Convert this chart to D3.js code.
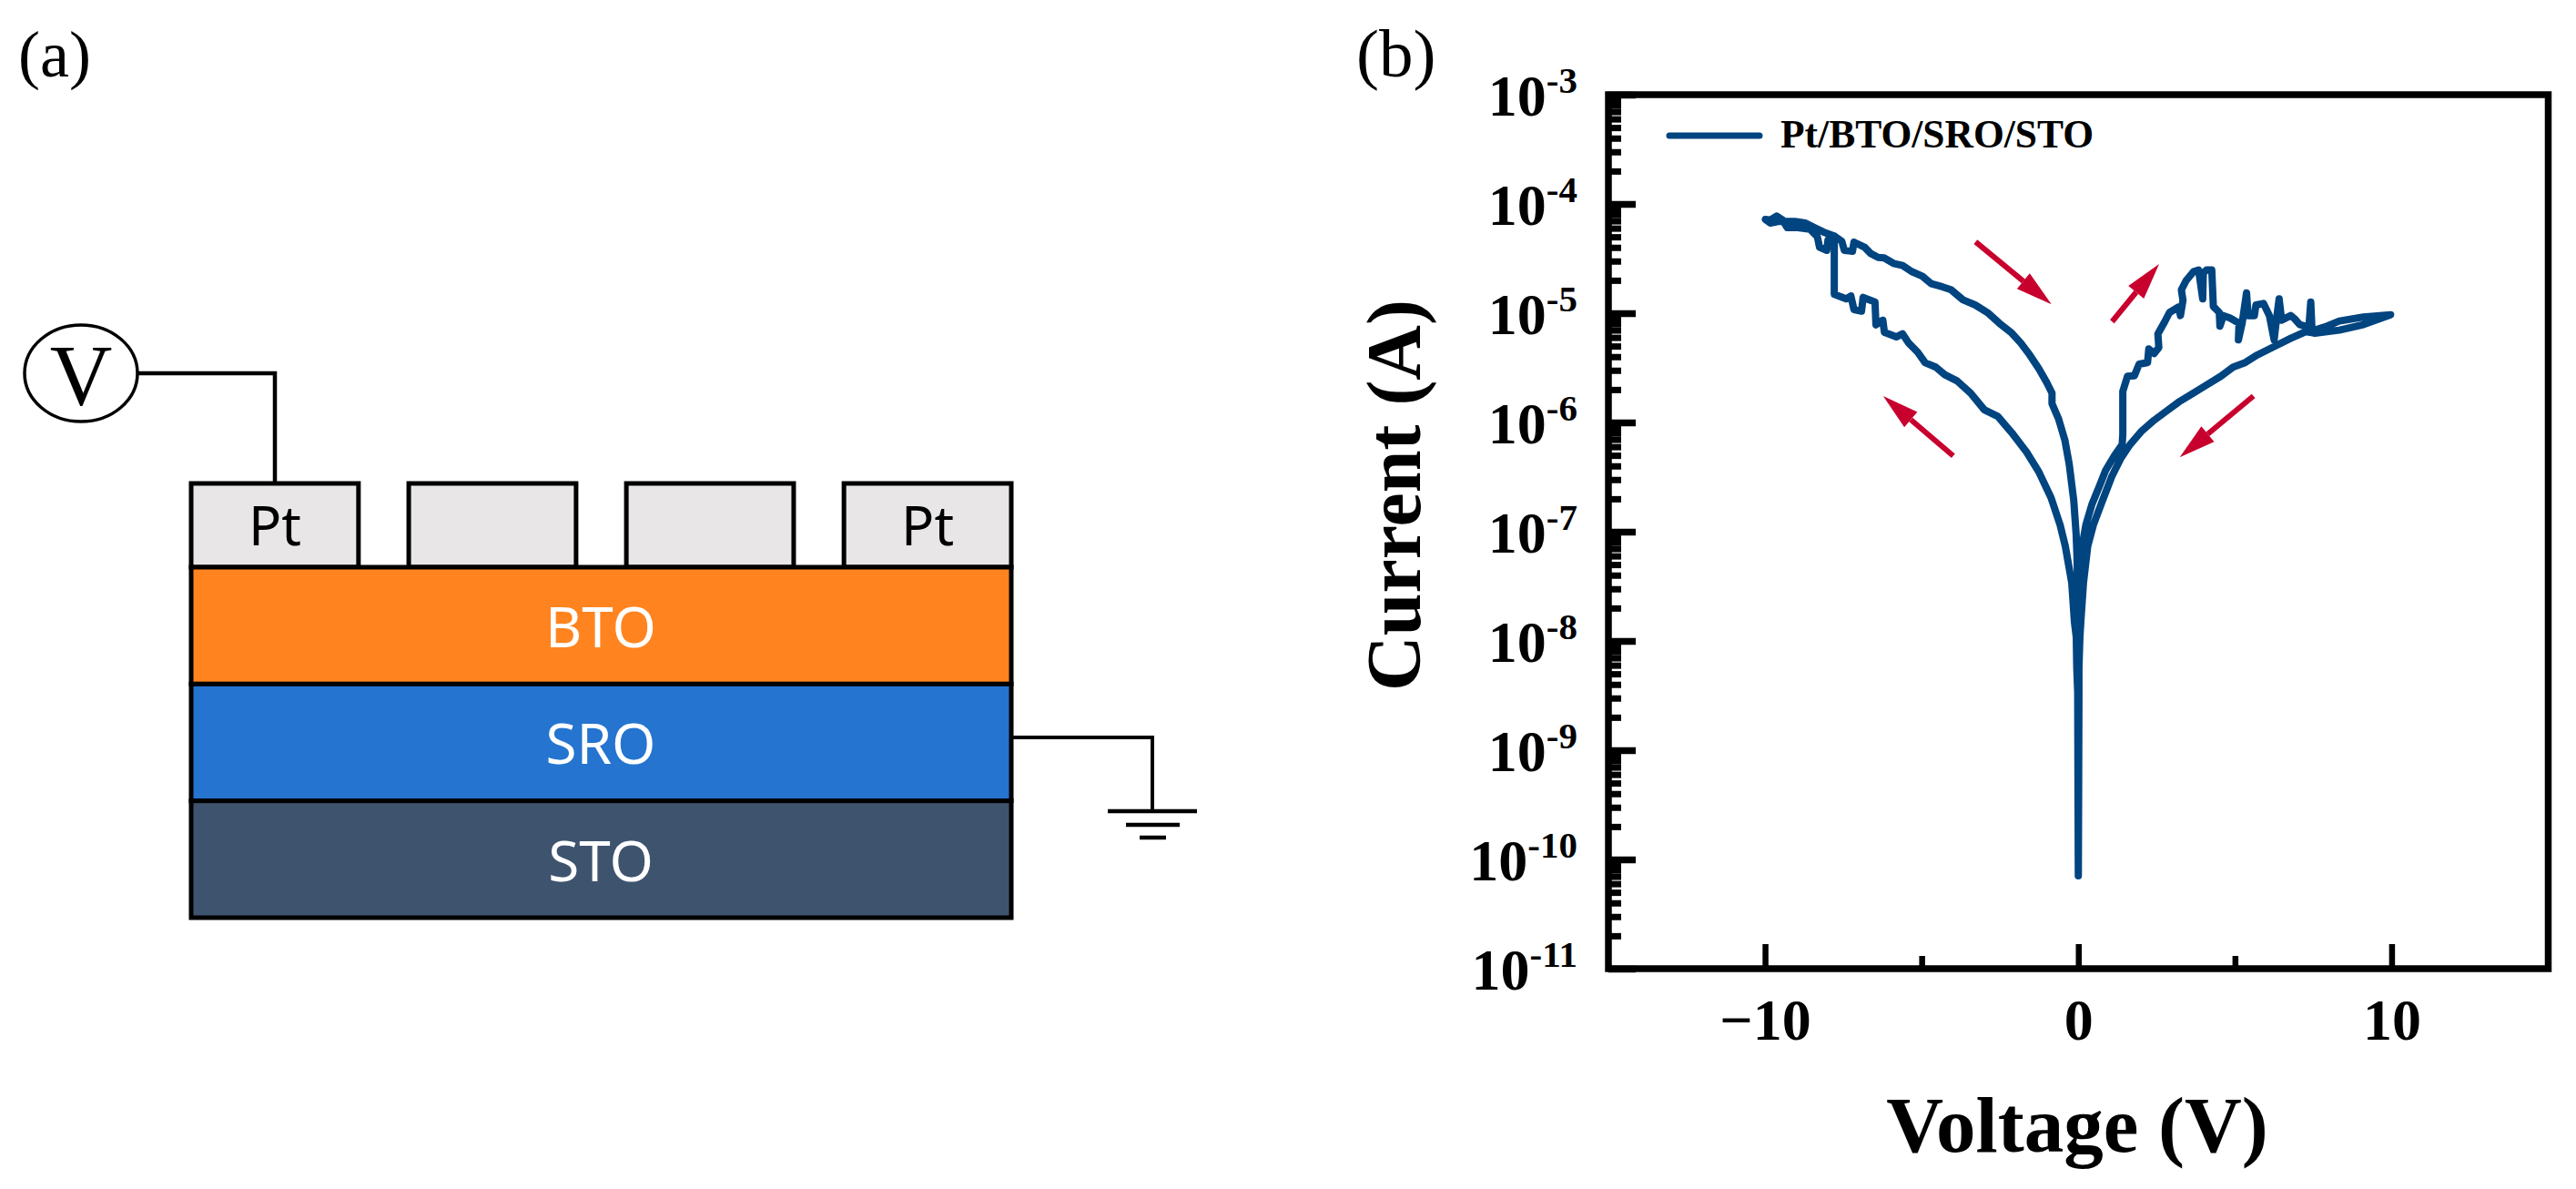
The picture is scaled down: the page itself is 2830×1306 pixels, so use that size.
<!DOCTYPE html>
<html>
<head>
<meta charset="utf-8">
<script src="https://cdn.jsdelivr.net/npm/d3@7"></script>
<style>
  html, body { margin: 0; padding: 0; background: #fff; }
  svg { display: block; }
  text { font-family: "Liberation Serif", serif; }
  .sans { font-family: "Noto Sans", sans-serif; }
</style>
</head>
<body>
<svg id="figure" width="2830" height="1306"></svg>
<script>
// (a) device stack
const layerNames = ['BTO', 'SRO', 'STO'];
const layerColors = ['#ff8420', '#2474d0', '#3e536e'];
const padLabels = ['Pt', '', '', 'Pt'];

// (b) I-V sweep, pairs of [voltage in V, log10 of current in A]
const sweepPositiveUp = [
  [0, -10.15], [0.01, -9.358], [0.015, -8.467], [0.02, -8.242], [0.04, -7.967], [0.07, -7.825], [0.11, -7.467],
  [0.12, -7.134], [0.24, -6.939], [0.44, -6.745], [0.68, -6.578], [0.87, -6.439], [1.16, -6.3], [1.4, -6.203],
  [1.42, -6.106], [1.42, -5.716], [1.57, -5.577], [1.79, -5.572], [1.94, -5.467], [2.21, -5.452], [2.25, -5.327],
  [2.42, -5.369], [2.57, -5.314], [2.54, -5.189], [2.76, -5.077], [2.91, -4.994], [3.2, -4.944], [3.26, -5.022],
  [3.34, -4.883], [3.29, -4.786], [3.44, -4.702], [3.68, -4.619], [3.84, -4.605], [3.97, -4.869], [3.99, -4.633],
  [4.09, -4.605], [4.26, -4.605], [4.31, -4.939], [4.5, -4.994], [4.52, -5.119], [4.63, -5.022], [4.84, -5.044],
  [5.13, -5.091], [5.11, -5.244], [5.23, -5.091], [5.37, -4.814], [5.42, -5.022], [5.62, -5.022], [5.67, -4.925],
  [5.91, -4.911], [6.1, -5.022], [6.25, -5.244], [6.34, -5.022], [6.41, -4.869], [6.49, -5.064], [6.78, -5.022],
  [6.9, -5.05], [7.07, -5.105], [7.36, -5.127], [7.42, -4.897], [7.46, -5.161], [7.94, -5.119], [8.33, -5.072],
  [9.1, -5.036], [9.97, -5.014]
];
const sweepPositiveDown = [
  [9.1, -5.105], [8.33, -5.155], [7.55, -5.183], [7.26, -5.169], [6.78, -5.23], [6.29, -5.3], [5.71, -5.383],
  [5.33, -5.452], [4.94, -5.494], [4.55, -5.577], [4.07, -5.661], [3.68, -5.73], [3.2, -5.814], [2.81, -5.897],
  [2.42, -5.98], [2.03, -6.077], [1.65, -6.203], [1.36, -6.327], [1.07, -6.494], [0.77, -6.717], [0.48, -6.939],
  [0.3, -7.134], [0.165, -7.467], [0.08, -7.825], [0.05, -7.967], [0.02, -8.242], [0.02, -8.467], [0.01, -9.358],
  [0, -10.15]
];
const sweepNegativeOut = [
  [-0.01, -9.358], [-0.02, -8.467], [-0.05, -8.242], [-0.065, -7.967], [-0.125, -7.825], [-0.21, -7.467],
  [-0.415, -7.133], [-0.58, -6.939], [-0.87, -6.689], [-1.26, -6.453], [-1.65, -6.272], [-2.13, -6.092],
  [-2.57, -5.945], [-3, -5.884], [-3.44, -5.731], [-3.87, -5.62], [-4.26, -5.564], [-4.55, -5.494], [-4.89, -5.453],
  [-5.13, -5.356], [-5.42, -5.272], [-5.61, -5.189], [-5.81, -5.217], [-6.19, -5.175], [-6.24, -5.064],
  [-6.46, -5.106], [-6.49, -4.897], [-6.87, -4.856], [-6.92, -4.981], [-7.16, -4.967], [-7.26, -4.842],
  [-7.41, -4.869], [-7.79, -4.828], [-7.79, -4.294], [-7.99, -4.328], [-8.03, -4.425], [-8.26, -4.397],
  [-8.33, -4.3], [-8.57, -4.231], [-8.95, -4.217], [-9.29, -4.217], [-9.44, -4.147], [-9.63, -4.111],
  [-9.83, -4.147], [-9.99, -4.142]
];
const sweepNegativeBack = [
  [-9.83, -4.175], [-9.59, -4.161], [-9.05, -4.161], [-8.71, -4.175], [-8.42, -4.217], [-8.13, -4.258],
  [-7.79, -4.294], [-7.55, -4.342], [-7.47, -4.425], [-7.21, -4.433], [-7.16, -4.35], [-6.82, -4.397],
  [-6.63, -4.453], [-6.39, -4.489], [-6.2, -4.494], [-5.9, -4.544], [-5.61, -4.564], [-5.32, -4.619],
  [-4.98, -4.661], [-4.69, -4.731], [-4.35, -4.758], [-4.06, -4.786], [-3.68, -4.878], [-3.29, -4.925],
  [-2.9, -4.994], [-2.52, -5.092], [-2.13, -5.181], [-1.84, -5.272], [-1.55, -5.383], [-1.26, -5.508],
  [-1.01, -5.633], [-0.84, -5.731], [-0.84, -5.828], [-0.63, -5.967], [-0.43, -6.161], [-0.29, -6.383],
  [-0.145, -6.717], [-0.07, -7.022], [-0.04, -7.245], [-0.02, -7.6], [0, -8]
];

// sweep direction arrows: tail and tip as [voltage, log10 current]
const sweepArrows = [
  { tail: [-3.28, -4.347], tip: [-0.857, -4.919] },
  { tail: [1.079, -5.077], tip: [2.58, -4.55] },
  { tail: [5.59, -5.758], tip: [3.238, -6.319] },
  { tail: [-3.993, -6.306], tip: [-6.23, -5.758] }
];

const voltageMajor = [-10, 0, 10];
const voltageMinor = [-5, 5];
const decades = d3.range(-11, -2);
const legendLabel = 'Pt/BTO/SRO/STO';

const svg = d3.select('#figure');

// ---------- panel (a) ----------
const a = svg.append('g');

a.append('text').attr('x', 20).attr('y', 84).attr('font-size', 72).text('(a)');

const layerY = d3.scaleBand().domain(layerNames).range([623, 1008]);
const padX = d3.scaleBand().domain(d3.range(padLabels.length)).range([210, 1111]).paddingInner(0.231);

a.selectAll('rect.pad')
  .data(padLabels)
  .join('rect')
  .attr('class', 'pad')
  .attr('x', (d, i) => padX(i))
  .attr('y', 531)
  .attr('width', padX.bandwidth())
  .attr('height', 92)
  .attr('fill', '#e8e6e6')
  .attr('stroke', '#000')
  .attr('stroke-width', 5);

a.selectAll('text.pad')
  .data(padLabels)
  .join('text')
  .attr('class', 'pad sans')
  .attr('x', (d, i) => padX(i) + padX.bandwidth() / 2)
  .attr('y', 599)
  .attr('text-anchor', 'middle')
  .attr('font-size', 60)
  .text(d => d);

a.selectAll('rect.layer')
  .data(layerNames)
  .join('rect')
  .attr('class', 'layer')
  .attr('x', 210)
  .attr('y', d => layerY(d))
  .attr('width', 901)
  .attr('height', layerY.bandwidth())
  .attr('fill', (d, i) => layerColors[i])
  .attr('stroke', '#000')
  .attr('stroke-width', 5);

a.selectAll('text.layer')
  .data(layerNames)
  .join('text')
  .attr('class', 'layer sans')
  .attr('x', 660)
  .attr('y', d => layerY(d) + 88)
  .attr('text-anchor', 'middle')
  .attr('fill', '#fff')
  .attr('font-size', 62)
  .text(d => d);

// voltmeter and ground wiring
const wire = d3.line();
a.append('path').attr('d', wire([[152, 410], [302, 410], [302, 530]]))
  .attr('fill', 'none').attr('stroke', '#000').attr('stroke-width', 4.5);
a.append('ellipse').attr('cx', 89).attr('cy', 410).attr('rx', 62).attr('ry', 53)
  .attr('fill', '#fff').attr('stroke', '#000').attr('stroke-width', 3.5);
a.append('text').attr('x', 89).attr('y', 445).attr('text-anchor', 'middle').attr('font-size', 95).text('V');

a.append('path').attr('d', wire([[1112, 810], [1266, 810], [1266, 891]]))
  .attr('fill', 'none').attr('stroke', '#000').attr('stroke-width', 4);
[[1217, 1315, 891], [1237, 1296, 906], [1252, 1281, 920]].forEach(([x1, x2, y]) => {
  a.append('line').attr('x1', x1).attr('x2', x2).attr('y1', y).attr('y2', y)
    .attr('stroke', '#000').attr('stroke-width', 4.5);
});

// ---------- panel (b) ----------
const plot = { left: 1767, right: 2799.5, top: 104, bottom: 1064 };
const x = d3.scaleLinear().domain([-15, 15]).range([plot.left, plot.right]);
const y = d3.scaleLog().domain([1e-11, 1e-3]).range([plot.bottom, plot.top]);

svg.append('text').attr('x', 1490).attr('y', 84).attr('font-size', 75).text('(b)');

// minor log ticks sit between the decades
const minorCurrents = [];
decades.slice(0, -1).forEach(e => {
  d3.range(2, 10).forEach(m => minorCurrents.push(m * Math.pow(10, e)));
});

function styleAxis(g, width) {
  g.select('.domain').remove();
  g.selectAll('.tick line').attr('stroke', '#000').attr('stroke-width', width);
}

svg.append('g')
  .attr('transform', `translate(${plot.left},0)`)
  .call(d3.axisLeft(y).tickValues(minorCurrents).tickSize(-14).tickFormat(''))
  .call(styleAxis, 7);

svg.append('g')
  .attr('class', 'y-major')
  .attr('transform', `translate(${plot.left},0)`)
  .call(d3.axisLeft(y).tickValues(decades.map(e => Math.pow(10, e))).tickSize(-30).tickFormat(''))
  .call(styleAxis, 7.5)
  .selectAll('.tick')
  .filter((d, i) => i < decades.length - 1)
  .each(function () { });

svg.select('.y-major').selectAll('.tick text').remove();
svg.select('.y-major').selectAll('.tick').each(function (d, i) {
  const label = d3.select(this).append('text')
    .attr('x', -34)
    .attr('y', 22)
    .attr('text-anchor', 'end')
    .attr('font-weight', 'bold')
    .attr('fill', '#000');
  label.append('tspan').attr('font-size', 64).text('10');
  label.append('tspan').attr('font-size', 41).attr('dy', -25).text(decades[i]);
});

svg.append('g')
  .attr('transform', `translate(0,${plot.bottom})`)
  .call(d3.axisBottom(x).tickValues(voltageMinor).tickSize(-14).tickFormat(''))
  .call(styleAxis, 6.5);

const xMajor = svg.append('g')
  .attr('transform', `translate(0,${plot.bottom})`)
  .call(d3.axisBottom(x).tickValues(voltageMajor).tickSize(-27).tickFormat(d3.format('d')))
  .call(styleAxis, 6.5);
xMajor.selectAll('.tick text')
  .attr('y', 78)
  .attr('dy', 0)
  .attr('font-family', '"Liberation Serif", serif')
  .attr('font-weight', 'bold')
  .attr('font-size', 64)
  .attr('fill', '#000');

// frame: the axes only draw ticks
svg.append('path')
  .attr('d', wire([[plot.left, plot.top], [plot.right, plot.top], [plot.right, plot.bottom], [plot.left, plot.bottom]]) + 'Z')
  .attr('fill', 'none')
  .attr('stroke', '#000')
  .attr('stroke-width', 7.5)
  .attr('stroke-linejoin', 'miter');

// measured curve
const sweep = sweepPositiveUp.concat(sweepPositiveDown, sweepNegativeOut, sweepNegativeBack);
const curve = d3.line()
  .x(d => x(d[0]))
  .y(d => y(Math.pow(10, d[1])));

svg.append('path')
  .datum(sweep)
  .attr('d', curve)
  .attr('fill', 'none')
  .attr('stroke', '#004480')
  .attr('stroke-width', 8)
  .attr('stroke-linejoin', 'round')
  .attr('stroke-linecap', 'round');

// red arrows
const arrowColor = '#c8002d';
sweepArrows.forEach(arrow => {
  const [tx, ty] = [x(arrow.tail[0]), y(Math.pow(10, arrow.tail[1]))];
  const [px, py] = [x(arrow.tip[0]), y(Math.pow(10, arrow.tip[1]))];
  const len = Math.hypot(px - tx, py - ty);
  const ux = (px - tx) / len;
  const uy = (py - ty) / len;
  const headLength = 40;
  const headHalf = 11;
  const bx = px - ux * headLength;
  const by = py - uy * headLength;

  svg.append('line')
    .attr('x1', tx).attr('y1', ty).attr('x2', bx).attr('y2', by)
    .attr('stroke', arrowColor).attr('stroke-width', 6);
  svg.append('polygon')
    .attr('points', [[px, py], [bx - uy * headHalf, by + ux * headHalf], [bx + uy * headHalf, by - ux * headHalf]].join(' '))
    .attr('fill', arrowColor);
});

// legend
svg.append('line')
  .attr('x1', 1834).attr('x2', 1933).attr('y1', 149).attr('y2', 149)
  .attr('stroke', '#004480').attr('stroke-width', 7).attr('stroke-linecap', 'round');
svg.append('text')
  .attr('x', 1956).attr('y', 162)
  .attr('font-weight', 'bold').attr('font-size', 43.5)
  .text(legendLabel);

// axis titles
svg.append('text')
  .attr('x', 2282).attr('y', 1265)
  .attr('text-anchor', 'middle')
  .attr('font-weight', 'bold').attr('font-size', 87)
  .text('Voltage (V)');
svg.append('text')
  .attr('transform', 'translate(1560,544) rotate(-90)')
  .attr('text-anchor', 'middle')
  .attr('font-weight', 'bold').attr('font-size', 84)
  .text('Current (A)');
</script>
</body>
</html>
